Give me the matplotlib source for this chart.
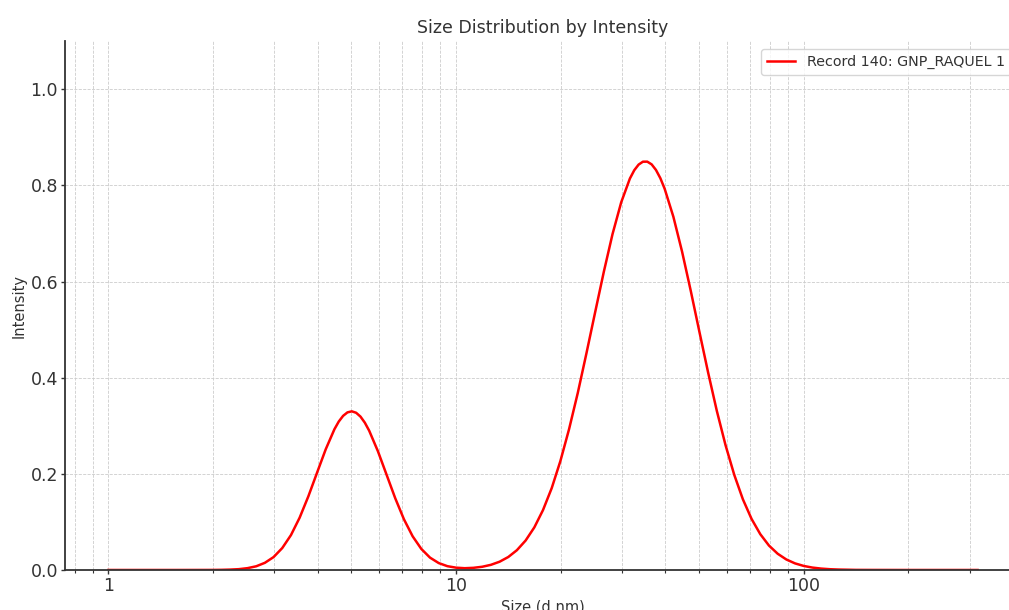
# Size distribution by intensity (DLS record), log size axis

import matplotlib
matplotlib.use('Agg')
import matplotlib.pyplot as plt
from matplotlib.ticker import LogLocator, NullFormatter, FixedLocator

# values
size_nm = [1.0, 1.26, 1.585, 1.995, 2.113, 2.239, 2.371, 2.512, 2.661, 2.818,
           2.985, 3.162, 3.350, 3.548, 3.758, 3.981, 4.217, 4.467, 4.597, 4.732,
           4.870, 5.012, 5.158, 5.309, 5.464, 5.623, 5.957, 6.310, 6.683, 7.079,
           7.499, 7.943, 8.414, 8.913, 9.441, 10.0, 10.59, 11.22, 11.89, 12.59,
           13.34, 14.13, 14.96, 15.85, 16.79, 17.78, 18.84, 19.95, 21.13, 22.39,
           23.71, 25.12, 26.61, 28.18, 29.85, 31.62, 32.55, 33.50, 34.47, 35.48,
           36.52, 37.58, 38.68, 39.81, 42.17, 44.67, 47.32, 50.12, 53.09, 56.23,
           59.57, 63.10, 66.83, 70.79, 74.99, 79.43, 84.14, 89.13, 94.41, 100.0,
           105.9, 112.2, 118.9, 125.9, 141.3, 158.5, 199.5, 251.2, 316.2]
intensity = [0.0, 0.0, 0.0, 0.0001, 0.0003, 0.0008, 0.0017, 0.0038, 0.0077, 0.0149,
             0.0268, 0.0456, 0.0726, 0.1088, 0.1530, 0.2022, 0.2510, 0.2927, 0.3087, 0.3206,
             0.3278, 0.3300, 0.3270, 0.3190, 0.3064, 0.2898, 0.2472, 0.1982, 0.1492, 0.1055,
             0.0701, 0.0438, 0.0257, 0.0144, 0.0079, 0.0048, 0.0037, 0.0045, 0.0067, 0.0107,
             0.0172, 0.0270, 0.0412, 0.0613, 0.0886, 0.1245, 0.1703, 0.2264, 0.2927, 0.3683,
             0.4506, 0.5362, 0.6205, 0.6985, 0.7647, 0.8142, 0.8315, 0.8432, 0.8492, 0.8493,
             0.8436, 0.8320, 0.8150, 0.7928, 0.7347, 0.6622, 0.5805, 0.4950, 0.4105, 0.3310,
             0.2597, 0.1981, 0.1470, 0.1061, 0.0745, 0.0508, 0.0338, 0.0218, 0.0137, 0.0084,
             0.0050, 0.0029, 0.0016, 0.0009, 0.0002, 0.0001, 0.0, 0.0, 0.0]
record_label = 'Record 140: GNP_RAQUEL 1'
y_ticks = [0.0, 0.2, 0.4, 0.6, 0.8, 1.0]


def _main():
    text_col = '#333333'
    fig = plt.figure(figsize=(10.09, 6.10), dpi=100)
    ax = fig.add_axes([0.0644, 0.0656, 0.9475, 0.867])

    ax.plot(size_nm, intensity, color='red', lw=1.8, label=record_label,
            solid_joinstyle='round')
    ax.set_xscale('log')
    ax.set_ylim(0, 1.1)

    ax.xaxis.set_major_locator(LogLocator(base=10))
    ax.xaxis.set_minor_locator(LogLocator(base=10, subs=range(2, 10)))
    ax.xaxis.set_minor_formatter(NullFormatter())
    ax.set_xticks([1, 10, 100], ['1', '10', '100'])
    ax.yaxis.set_major_locator(FixedLocator(y_ticks))

    ax.grid(True, which='both', axis='x', ls='--', lw=0.6, color='#cccccc')
    ax.grid(True, which='major', axis='y', ls='--', lw=0.6, color='#cccccc')

    for side in ('top', 'right'):
        ax.spines[side].set_visible(False)
    for side in ('left', 'bottom'):
        ax.spines[side].set_color(text_col)
        ax.spines[side].set_linewidth(1.3)

    ax.tick_params(axis='both', which='major', labelsize=12.5, colors=text_col,
                   length=3, width=1, pad=2)
    ax.tick_params(axis='x', which='minor', colors=text_col, length=2, width=0.8)

    ax.set_title('Size Distribution by Intensity', fontsize=12.5, color=text_col)
    ax.set_xlabel('Size (d.nm)', fontsize=10.5, color=text_col, labelpad=3)
    ax.set_ylabel('Intensity', fontsize=10.5, color=text_col, labelpad=3)

    leg = ax.legend(loc='upper left', bbox_to_anchor=(0.728, 0.985),
                    borderaxespad=0, fontsize=10.3, frameon=True)
    for t in leg.get_texts():
        t.set_color(text_col)

    fig.savefig('out.png', dpi=100)


if __name__ == '__main__':
    _main()
